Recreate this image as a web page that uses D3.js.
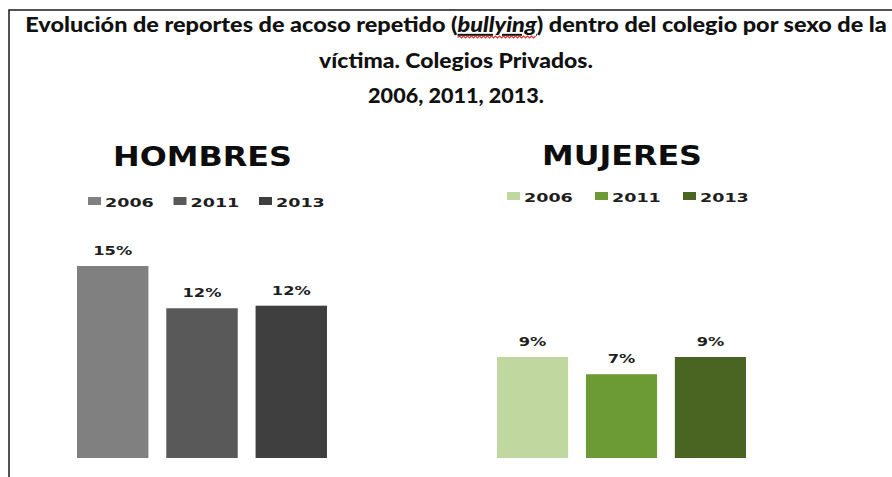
<!DOCTYPE html>
<html>
<head>
<meta charset="utf-8">
<script src="https://cdn.jsdelivr.net/npm/d3@7"></script>
<style>
  html, body { margin: 0; padding: 0; background: #ffffff; }
  svg { display: block; }
</style>
</head>
<body>
<svg id="chart" width="892" height="477"></svg>
<script>
// ---------- DATA ----------
const years = ["2006", "2011", "2013"];
const hombresValues = [15.0, 11.7, 11.9];
const mujeresValues = [8.8, 7.3, 8.8];
const titleParts = ["Evolución de reportes de acoso repetido (", "bullying", ") dentro del colegio por sexo de la"];
const titleLine2 = "víctima. Colegios Privados.";
const titleLine3 = "2006, 2011, 2013.";
const panelTitles = ["HOMBRES", "MUJERES"];

// ---------- STYLE ----------
const hombresColors = ["#808080", "#595959", "#3f3f3f"];
const mujeresColors = ["#c0d89f", "#6c9a34", "#4a6522"];
const chartFont = "'DejaVu Sans', Verdana, sans-serif";
const titleFont = "Lato, 'Open Sans', sans-serif";

const svg = d3.select("#chart");

// frame
svg.append("path")
  .attr("d", "M9,477 L9,10 L892,10")
  .attr("fill", "none").attr("stroke", "#1a1a1a").attr("stroke-width", 1.5);

// helper: scale a text horizontally so its width matches target
function fitCentered(g, textSel, cx, y, target) {
  const w = textSel.node().getComputedTextLength();
  const s = target / w;
  g.attr("transform", `translate(${cx},${y}) scale(${s},1)`);
  return s;
}

// ---------- TITLE ----------
const t1g = svg.append("g");
const t1 = t1g.append("text")
  .attr("text-anchor", "middle")
  .attr("font-family", titleFont).attr("font-weight", 900)
  .attr("font-size", 20).attr("fill", "#111");
t1.append("tspan").text(titleParts[0]);
t1.append("tspan").text(titleParts[1]).attr("font-style", "italic").attr("text-decoration", "underline");
t1.append("tspan").text(titleParts[2]);
const s1 = fitCentered(t1g, t1, 456, 32, 862);
// red spell-check squiggle under the italic word
(function () {
  const n = t1.node();
  const start = titleParts[0].length;
  const a = n.getExtentOfChar(start);
  const b = n.getExtentOfChar(start + titleParts[1].length - 1);
  const x0 = a.x, x1 = b.x + b.width;
  let d = `M${x0},5.5`;
  let up = true;
  for (let x = x0 + 2 / s1; x <= x1; x += 2 / s1) { d += ` L${x},${up ? 4 : 6}`; up = !up; }
  t1g.append("path").attr("d", d).attr("fill", "none")
    .attr("stroke", "#e03030").attr("stroke-width", 1.2).attr("vector-effect", "non-scaling-stroke");
})();

[[titleLine2, 68, 274], [titleLine3, 103, 176]].forEach(([txt, y, w]) => {
  const g = svg.append("g");
  const t = g.append("text").attr("text-anchor", "middle")
    .attr("font-family", titleFont).attr("font-weight", 900)
    .attr("font-size", 20).attr("fill", "#111").text(txt);
  fitCentered(g, t, 456, y, w);
});

// ---------- PANELS ----------
const baseY = 458;
const panels = [
  { name: panelTitles[0], values: hombresValues, colors: hombresColors,
    xRange: [77, 327], topY: 266, titleX: 202.5, titleY: 166, titleW: 179,
    legX: 88, legStep: 85.5, legY: 201 },
  { name: panelTitles[1], values: mujeresValues, colors: mujeresColors,
    xRange: [497, 746], topY: 357, titleX: 622, titleY: 165, titleW: 160,
    legX: 507, legStep: 88, legY: 196 }
];

const stretch = 1.25;
const legStretch = 1.35;
const fmt = d3.format(".0f");

panels.forEach(p => {
  const g = svg.append("g");
  const x = d3.scaleBand().domain(years).range(p.xRange).paddingInner(0.2).paddingOuter(0);
  const y = d3.scaleLinear().domain([0, d3.max(p.values)]).range([baseY, p.topY]);

  // bars
  g.selectAll("rect.bar").data(p.values).join("rect")
    .attr("class", "bar")
    .attr("x", (d, i) => x(years[i]))
    .attr("width", x.bandwidth())
    .attr("y", d => y(d))
    .attr("height", d => baseY - y(d))
    .attr("fill", (d, i) => p.colors[i]);

  // labels
  p.values.forEach((v, i) => {
    const lg = g.append("g")
      .attr("transform", `translate(${x(years[i]) + x.bandwidth() / 2},${y(v) - 11}) scale(${stretch},1)`);
    lg.append("text").attr("text-anchor", "middle")
      .attr("font-family", chartFont).attr("font-weight", 700)
      .attr("font-size", 13).attr("fill", "#1e1e1e")
      .text(fmt(v) + "%");
  });

  // panel title
  const tg = g.append("g");
  const tt = tg.append("text").attr("text-anchor", "middle")
    .attr("font-family", chartFont).attr("font-weight", 700)
    .attr("font-size", 26).attr("fill", "#0d0d0d").text(p.name);
  fitCentered(tg, tt, p.titleX, p.titleY, p.titleW);

  // legend
  years.forEach((yr, i) => {
    const ig = g.append("g").attr("transform", `translate(${p.legX + i * p.legStep},${p.legY})`);
    ig.append("rect").attr("x", 0).attr("y", -4).attr("width", 13).attr("height", 8)
      .attr("fill", p.colors[i]);
    const tg2 = ig.append("g").attr("transform", `translate(17,5.5) scale(${legStretch},1)`);
    tg2.append("text").attr("font-family", chartFont).attr("font-weight", 700)
      .attr("font-size", 13).attr("fill", "#1e1e1e").text(yr);
  });
});
</script>
</body>
</html>
